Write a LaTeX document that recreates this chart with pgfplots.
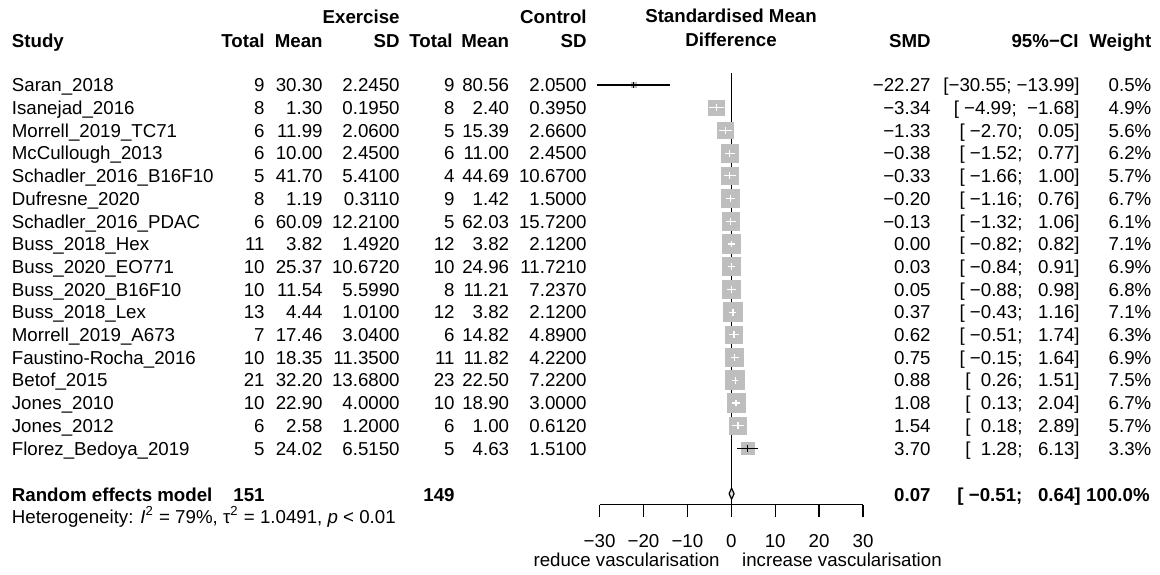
\documentclass[border=0pt]{standalone}
\usepackage{fontspec}
\setmainfont{Liberation Sans}
\usepackage{pgfplots}
\usepackage{pgfplotstable}
\pgfplotsset{compat=1.18}

\definecolor{sqgray}{RGB}{190,190,190}
\newcommand\fs{\fontsize{9.35}{11.2}\selectfont}

% study-level effects: row, SMD, 95% CI, weight (%), CI line black (1) or white inside the box (0)
\pgfplotstableread{
row smd lo hi w blk
0 -22.27 -30.55 -13.99 0.5 1
1 -3.34 -4.99 -1.68 4.9 0
2 -1.33 -2.70 0.05 5.6 0
3 -0.38 -1.52 0.77 6.2 0
4 -0.33 -1.66 1.00 5.7 0
5 -0.20 -1.16 0.76 6.7 0
6 -0.13 -1.32 1.06 6.1 0
7 0.00 -0.82 0.82 7.1 0
8 0.03 -0.84 0.91 6.9 0
9 0.05 -0.88 0.98 6.8 0
10 0.37 -0.43 1.16 7.1 0
11 0.62 -0.51 1.74 6.3 0
12 0.75 -0.15 1.64 6.9 0
13 0.88 0.26 1.51 7.5 0
14 1.08 0.13 2.04 6.7 0
15 1.54 0.18 2.89 5.7 0
16 3.70 1.28 6.13 3.3 1
}\studies

% pooled random effects estimate
\pgfplotstableread{
x y
-0.51 -18
0.07 -17.758
0.64 -18
0.07 -18.242
-0.51 -18
}\pooled

\begin{document}
\begin{tikzpicture}[font=\fs]
\begin{axis}[
  set layers=standard,
  scale only axis, width=131.7pt, height=252.3pt,
  xmin=-30, xmax=30, ymin=-18.48, ymax=3.749,
  clip=false,
  axis x line*=bottom, axis y line=none,
  xtick={-30,-20,-10,0,10,20,30},
  xticklabels={−30,−20,−10,0,10,20,30},
  tick align=outside, major tick length=6pt,
  x axis line style={line width=0.7pt, -},
  every tick/.style={black, line width=0.7pt},
  xticklabel style={font=\fs, yshift=-5.5pt},
]
% line of no effect
\addplot[black, line width=0.6pt] coordinates {(0,0.52) (0,-18.48)};

% study boxes, area proportional to weight
\addplot[scatter, only marks, mark=square*,
  scatter/use mapped color={draw=sqgray, fill=sqgray},
  visualization depends on={1.75*sqrt(\thisrow{w}) \as \msz},
  scatter/@pre marker code/.append style={/tikz/mark size=\msz}]
  table[x=smd, y expr=-\thisrow{row}] \studies;

% confidence intervals lying inside their box
\addplot[on layer=axis foreground,
  only marks, mark=|, mark size=1.7pt, mark options={white, line width=0.6pt},
  restrict expr to domain={\thisrow{blk}}{-0.5:0.5},
  error bars/.cd, x dir=both, x explicit, error mark=none,
  error bar style={white, line width=0.6pt}]
  table[x=smd, y expr=-\thisrow{row},
        x error plus expr=\thisrow{hi}-\thisrow{smd},
        x error minus expr=\thisrow{smd}-\thisrow{lo}] \studies;

% confidence intervals reaching beyond their box
\addplot[on layer=axis foreground,
  only marks, mark=|, mark size=1.7pt, mark options={black, line width=0.6pt},
  restrict expr to domain={\thisrow{blk}}{0.5:1.5},
  error bars/.cd, x dir=both, x explicit, error mark=none,
  error bar style={black, line width=0.6pt}]
  table[x=smd, y expr=-\thisrow{row},
        x error plus expr=\thisrow{hi}-\thisrow{smd},
        x error minus expr=\thisrow{smd}-\thisrow{lo}] \studies;

% summary diamond
\addplot[on layer=axis foreground, draw=black, fill=gray!25, line width=0.6pt, line join=round] table {\pooled};

\coordinate (tl) at (axis cs:-166.58,3.749);
\coordinate (br) at (axis cs:97.65,-21.537);
\end{axis}
\pgfresetboundingbox
\path[use as bounding box] (tl) rectangle (br);

\begin{scope}[shift={(tl)}, x=0.5pt, y=-0.5pt, every node/.style={inner sep=0pt}]
  % column headings
  \node[anchor=base east] at (400,23.4) {\bfseries Exercise};
  \node[anchor=base east] at (587,23.4) {\bfseries Control};
  \node[anchor=base] at (731,22.4) {\bfseries Standardised Mean};
  \node[anchor=base west] at (11.5,47.4) {\bfseries Study};
  \node[anchor=base east] at (265,47.4) {\bfseries Total};
  \node[anchor=base east] at (323,47.4) {\bfseries Mean};
  \node[anchor=base east] at (400,47.4) {\bfseries SD};
  \node[anchor=base east] at (453,47.4) {\bfseries Total};
  \node[anchor=base east] at (509.5,47.4) {\bfseries Mean};
  \node[anchor=base east] at (587,47.4) {\bfseries SD};
  \node[anchor=base] at (731,46.7) {\bfseries Difference};
  \node[anchor=base east] at (931,47.4) {\bfseries SMD};
  \node[anchor=base east] at (1079,47.4) {\bfseries 95\%−CI};
  \node[anchor=base east] at (1151.7,47.4) {\bfseries Weight};

  % one line per study
  \foreach \rw/\nm/\xT/\xM/\xS/\cT/\cM/\cS/\es/\ci/\wt in {
    0/Saran\_2018/9/30.30/2.2450/9/80.56/2.0500/−22.27/{[−30.55;~−13.99]}/0.5\%,
    1/Isanejad\_2016/8/1.30/0.1950/8/2.40/0.3950/−3.34/{[~−4.99;~~−1.68]}/4.9\%,
    2/Morrell\_2019\_TC71/6/11.99/2.0600/5/15.39/2.6600/−1.33/{[~−2.70;~~~0.05]}/5.6\%,
    3/McCullough\_2013/6/10.00/2.4500/6/11.00/2.4500/−0.38/{[~−1.52;~~~0.77]}/6.2\%,
    4/Schadler\_2016\_B16F10/5/41.70/5.4100/4/44.69/10.6700/−0.33/{[~−1.66;~~~1.00]}/5.7\%,
    5/Dufresne\_2020/8/1.19/0.3110/9/1.42/1.5000/−0.20/{[~−1.16;~~~0.76]}/6.7\%,
    6/Schadler\_2016\_PDAC/6/60.09/12.2100/5/62.03/15.7200/−0.13/{[~−1.32;~~~1.06]}/6.1\%,
    7/Buss\_2018\_Hex/11/3.82/1.4920/12/3.82/2.1200/0.00/{[~−0.82;~~~0.82]}/7.1\%,
    8/Buss\_2020\_EO771/10/25.37/10.6720/10/24.96/11.7210/0.03/{[~−0.84;~~~0.91]}/6.9\%,
    9/Buss\_2020\_B16F10/10/11.54/5.5990/8/11.21/7.2370/0.05/{[~−0.88;~~~0.98]}/6.8\%,
    10/Buss\_2018\_Lex/13/4.44/1.0100/12/3.82/2.1200/0.37/{[~−0.43;~~~1.16]}/7.1\%,
    11/Morrell\_2019\_A673/7/17.46/3.0400/6/14.82/4.8900/0.62/{[~−0.51;~~~1.74]}/6.3\%,
    12/Faustino-Rocha\_2016/10/18.35/11.3500/11/11.82/4.2200/0.75/{[~−0.15;~~~1.64]}/6.9\%,
    13/Betof\_2015/21/32.20/13.6800/23/22.50/7.2200/0.88/{[~~0.26;~~~1.51]}/7.5\%,
    14/Jones\_2010/10/22.90/4.0000/10/18.90/3.0000/1.08/{[~~0.13;~~~2.04]}/6.7\%,
    15/Jones\_2012/6/2.58/1.2000/6/1.00/0.6120/1.54/{[~~0.18;~~~2.89]}/5.7\%,
    16/Florez\_Bedoya\_2019/5/24.02/6.5150/5/4.63/1.5100/3.70/{[~~1.28;~~~6.13]}/3.3\%%
  }{
    \pgfmathsetmacro\yy{91.8+22.7*\rw}
    \node[anchor=base west] at (11.5,\yy) {\nm};
    \node[anchor=base east] at (265,\yy) {\xT};
    \node[anchor=base east] at (323,\yy) {\xM};
    \node[anchor=base east] at (400,\yy) {\xS};
    \node[anchor=base east] at (455,\yy) {\cT};
    \node[anchor=base east] at (509.5,\yy) {\cM};
    \node[anchor=base east] at (587,\yy) {\cS};
    \node[anchor=base east] at (931,\yy) {\es};
    \node[anchor=base east] at (1080,\yy) {\ci};
    \node[anchor=base east] at (1151.7,\yy) {\wt};
  }

  % pooled estimate line
  \node[anchor=base west] at (11.5,501.4) {\bfseries Random effects model};
  \node[anchor=base east] at (265,501.4) {\bfseries 151};
  \node[anchor=base east] at (455,501.4) {\bfseries 149};
  \node[anchor=base east] at (931,501.4) {\bfseries 0.07};
  \node[anchor=base east] at (1081,501.4) {\bfseries [~−0.51;~~~0.64]};
  \node[anchor=base east] at (1150,501.4) {\bfseries 100.0\%};
  \node[anchor=base west] at (11.5,523.4)
    {Heterogeneity: \textit{I}\textsuperscript{2} = 79\%, τ\textsuperscript{2} = 1.0491, \textit{p} < 0.01};

  % direction of effect
  \node[anchor=base east] at (720,566.5) {reduce vascularisation};
  \node[anchor=base west] at (741.7,566.5) {increase vascularisation};
\end{scope}
\end{tikzpicture}
\end{document}
